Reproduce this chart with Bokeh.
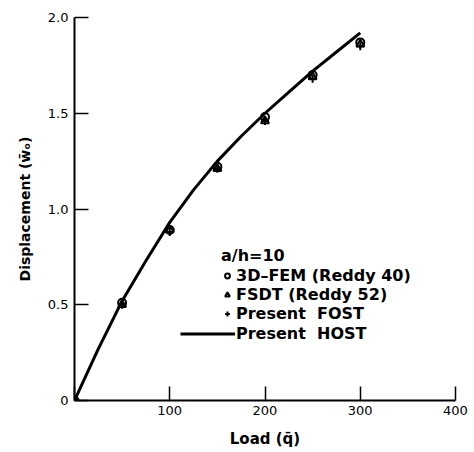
from bokeh.plotting import figure
from bokeh.models import Legend, LegendItem, Range1d, FixedTicker
from bokeh.embed import file_html
from bokeh.resources import INLINE

# data
load_pts = [0, 50, 100, 150, 200, 250, 300]
fem_3d = [0, 0.51, 0.89, 1.22, 1.48, 1.70, 1.87]
fsdt = [0, 0.50, 0.89, 1.21, 1.46, 1.69, 1.86]
fost = [0, 0.50, 0.88, 1.21, 1.46, 1.68, 1.85]
host_load = [0, 25, 50, 75, 100, 125, 150, 175, 200, 225, 250, 275, 300]
host = [0, 0.27, 0.52, 0.73, 0.93, 1.10, 1.25, 1.38, 1.50, 1.61, 1.72, 1.82, 1.92]
x_ticks = [0, 100, 200, 300, 400]
y_ticks = [0, 0.5, 1.0, 1.5, 2.0]

FONT = "DejaVu Sans"

p = figure(width=474, height=452, output_backend="svg", toolbar_location=None,
           x_range=Range1d(0, 400), y_range=Range1d(0, 2.0),
           min_border_left=74, min_border_right=19, min_border_top=17,
           min_border_bottom=52)
p.outline_line_color = None
p.grid.visible = False
p.background_fill_color = "white"

for ax in (p.xaxis[0], p.yaxis[0]):
    ax.axis_line_width = 2
    ax.axis_line_color = "black"
    ax.major_tick_in = 14
    ax.major_tick_out = 0
    ax.major_tick_line_width = 1.5
    ax.minor_tick_line_color = None
    ax.major_label_text_font = FONT
    ax.major_label_text_font_size = "13px"
    ax.major_label_text_color = "black"
    ax.axis_label_text_font = FONT
    ax.axis_label_text_font_style = "bold"
    ax.axis_label_text_color = "black"

p.xaxis.axis_label_text_font_size = "15px"
p.yaxis.axis_label_text_font_size = "14px"
p.xaxis.ticker = FixedTicker(ticks=x_ticks)
p.yaxis.ticker = FixedTicker(ticks=y_ticks)
p.xaxis.major_label_overrides = {0: ""}
p.yaxis.major_label_overrides = {0: "0", 0.5: "0.5", 1.0: "1.0", 1.5: "1.5", 2.0: "2.0"}
p.xaxis.axis_label = "Load (q\u0304)"
p.yaxis.axis_label = "Displacement (w\u0304\u2092)"
p.xaxis.major_label_standoff = 5
p.xaxis.axis_label_standoff = 12
p.yaxis.major_label_standoff = 6
p.yaxis.axis_label_standoff = 12

r_host = p.line(host_load, host, line_width=3, line_color="black")
r_fem = p.scatter(load_pts, fem_3d, marker="circle", size=8, fill_color=None,
                  line_color="black", line_width=2)
r_fsdt = p.scatter(load_pts, fsdt, marker="triangle", size=8, fill_color=None,
                   line_color="black", line_width=2)
r_fost = p.scatter(load_pts, fost, marker="cross", size=8,
                   line_color="black", line_width=2)

common = dict(padding=0, margin=0, border_line_color=None,
              background_fill_alpha=0, label_text_font=FONT,
              label_text_font_size="16px", label_text_font_style="bold",
              label_text_color="black",
              label_height=15, glyph_height=15, spacing=0)
leg1 = Legend(items=[LegendItem(label="3D\u2013FEM (Reddy 40)", renderers=[r_fem]),
                     LegendItem(label="FSDT (Reddy 52)", renderers=[r_fsdt]),
                     LegendItem(label="Present  FOST", renderers=[r_fost])],
              location=(147, 77), title="a/h=10",
              glyph_width=12, label_standoff=3,
              title_text_font=FONT, title_text_font_size="16px",
              title_text_color="black",
              title_text_font_style="bold", title_standoff=1, **common)
leg2 = Legend(items=[LegendItem(label="Present  HOST", renderers=[r_host])],
              location=(106, 57), glyph_width=55, label_standoff=1, **common)
p.add_layout(leg1, "center")
p.add_layout(leg2, "center")

open("out.html", "w").write(file_html(p, INLINE))
